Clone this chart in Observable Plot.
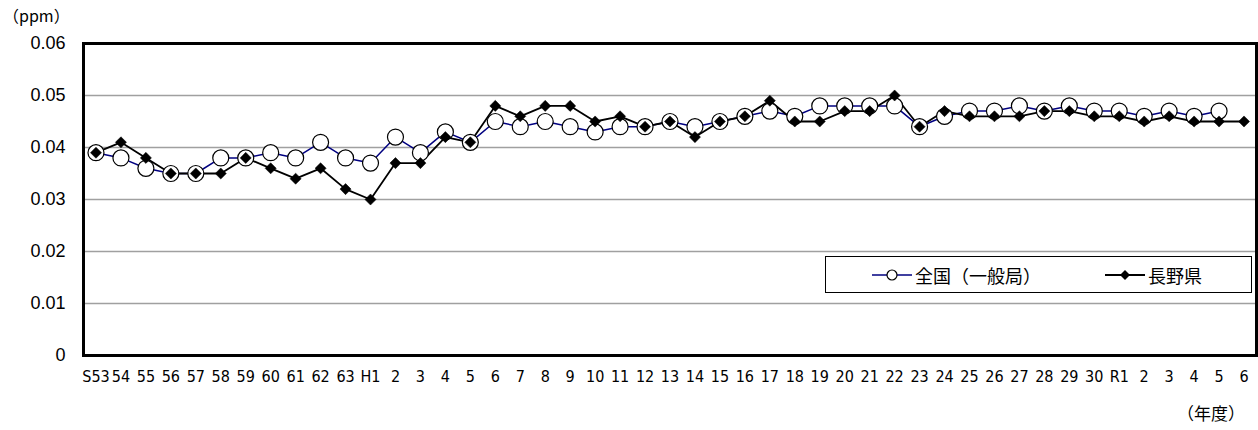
<!DOCTYPE html>
<html>
<head>
<meta charset="utf-8">
<script src="https://cdn.jsdelivr.net/npm/d3@7"></script>
<script src="https://cdn.jsdelivr.net/npm/@observablehq/plot@0.6"></script>
<style>
  html, body { margin: 0; padding: 0; background: #fff; }
  #wrap { position: relative; width: 1258px; height: 430px; overflow: hidden; }
  .note { position: absolute; font-family: "Noto Sans CJK JP", "Liberation Sans", sans-serif; color: #000; white-space: nowrap; }
  #legend { position: absolute; left: 825px; top: 256px; width: 425px; height: 35px; border: 1px solid #000; background: #fff;
    font-family: "Noto Sans CJK JP", sans-serif; font-size: 18px; }
  .item { position: absolute; top: 0; height: 35px; display: flex; align-items: center; }
  .item svg { margin-right: 3px; }
</style>
</head>
<body>
<div id="wrap">
  <div id="chart"></div>
  <div class="note" style="left:3px; top:3px; font-size:16px;">（ppm）</div>
  <div class="note" style="left:1177px; top:400px; font-size:17px;">（年度）</div>
  <div id="legend">
    <div class="item" style="left:46px;">
      <svg width="40" height="20"><line x1="0" y1="10" x2="40" y2="10" stroke="#000080" stroke-width="1.5"/><circle cx="20" cy="10" r="5" fill="#fff" stroke="#000" stroke-width="1.2"/></svg>
      <span>全国（一般局）</span>
    </div>
    <div class="item" style="left:279px;">
      <svg width="40" height="20"><line x1="0" y1="10" x2="40" y2="10" stroke="#000" stroke-width="1.8"/><path d="M20,5 L25,10 L20,15 L15,10 Z" fill="#000"/></svg>
      <span>長野県</span>
    </div>
  </div>
</div>
<script>
const years = ["S53","54","55","56","57","58","59","60","61","62","63",
  "H1","2","3","4","5","6","7","8","9","10","11","12","13","14","15","16","17","18","19","20",
  "21","22","23","24","25","26","27","28","29","30",
  "R1","2 ","3 ","4 ","5 ","6 "];
const yearLabels = ["S53","54","55","56","57","58","59","60","61","62","63",
  "H1","2","3","4","5","6","7","8","9","10","11","12","13","14","15","16","17","18","19","20",
  "21","22","23","24","25","26","27","28","29","30",
  "R1","2","3","4","5","6"];
const national = [0.039,0.038,0.036,0.035,0.035,0.038,0.038,0.039,0.038,0.041,0.038,
  0.037,0.042,0.039,0.043,0.041,0.045,0.044,0.045,0.044,0.043,0.044,0.044,0.045,0.044,0.045,0.046,0.047,0.046,0.048,0.048,
  0.048,0.048,0.044,0.046,0.047,0.047,0.048,0.047,0.048,0.047,
  0.047,0.046,0.047,0.046,0.047,null];
const nagano = [0.039,0.041,0.038,0.035,0.035,0.035,0.038,0.036,0.034,0.036,0.032,
  0.030,0.037,0.037,0.042,0.041,0.048,0.046,0.048,0.048,0.045,0.046,0.044,0.045,0.042,0.045,0.046,0.049,0.045,0.045,0.047,
  0.047,0.050,0.044,0.047,0.046,0.046,0.046,0.047,0.047,0.046,
  0.046,0.045,0.046,0.045,0.045,0.045];
const yTicks = [0,0.01,0.02,0.03,0.04,0.05,0.06];
const gridTicks = [0.01,0.02,0.03,0.04,0.05];

const natData = years.map((year, i) => ({year, value: national[i]})).filter(d => d.value != null);
const nagData = years.map((year, i) => ({year, value: nagano[i]}));
const labelOf = new Map(years.map((y, i) => [y, yearLabels[i]]));

const chart = Plot.plot({
  width: 1258,
  height: 430,
  marginLeft: 83,
  marginRight: 2,
  marginTop: 43,
  marginBottom: 75,
  style: {background: "#fff", color: "#000"},
  x: {type: "point", domain: years, padding: 0.5, label: null},
  y: {domain: [0, 0.06], label: null},
  marks: [
    Plot.ruleY(gridTicks, {stroke: "#a0a0a0", strokeWidth: 1.5}),
    Plot.axisY(yTicks, {tickSize: 0, tickPadding: 18, label: null, fontSize: 18,
      fontFamily: "Liberation Sans, Arial, sans-serif", tickFormat: d => d === 0 ? "0" : d.toFixed(2)}),
    Plot.axisX(years, {tickSize: 0, tickPadding: 15, label: null, fontSize: 16,
      fontFamily: "Liberation Sans Narrow, Arial Narrow, DejaVu Sans Condensed, sans-serif",
      tickFormat: d => labelOf.get(d)}),
    Plot.line(natData, {x: "year", y: "value", stroke: "#000080", strokeWidth: 1.5}),
    Plot.line(nagData, {x: "year", y: "value", stroke: "#000", strokeWidth: 1.8}),
    Plot.dot(natData, {x: "year", y: "value", r: 8, fill: "#fff", stroke: "#000", strokeWidth: 1.2}),
    Plot.dot(nagData, {x: "year", y: "value", r: 5, symbol: "diamond2", fill: "#000", stroke: "#000", strokeWidth: 0.5}),
    Plot.frame({stroke: "#000", strokeWidth: 3})
  ]
});
document.getElementById("chart").appendChild(chart);
</script>
</body>
</html>
